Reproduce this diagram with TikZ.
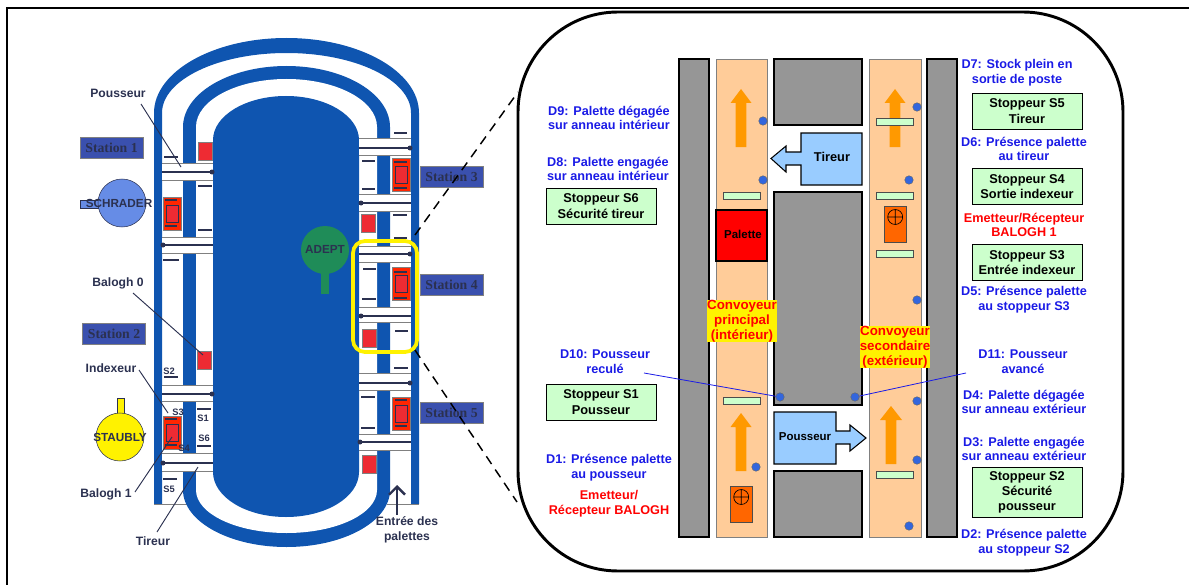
\documentclass[tikz,border=0pt]{standalone}
\usepackage{fontspec}
\setmainfont{Liberation Sans}
\newfontfamily\stationfont{Liberation Serif}
\usetikzlibrary{arrows.meta}
\definecolor{track}{HTML}{0F55B0}
\definecolor{navy}{HTML}{2B3150}
\definecolor{stationblue}{HTML}{3A50AE}
\definecolor{concrete}{HTML}{969696}
\definecolor{peach}{HTML}{FFCC99}
\definecolor{stopgreen}{HTML}{CCFFCC}
\definecolor{sky}{HTML}{99CCFF}
\definecolor{amber}{HTML}{FF9900}
\definecolor{emitter}{HTML}{FF6600}
\definecolor{sensor}{HTML}{3366DD}
\definecolor{textblue}{HTML}{1A1AE6}
\definecolor{palletred}{HTML}{EE2B33}
\definecolor{adeptgreen}{HTML}{1F8C58}

\begin{document}
\begin{tikzpicture}[
  x=.75pt, y=-.75pt,
  every path/.style={line cap=butt},
  every node/.style={inner sep=0pt, align=center},
  callout/.style={font=\bfseries\fontsize{9.1}{11}\selectfont, text=navy},
  stationbox/.style={rectangle, draw=gray, fill=stationblue, text=navy, minimum width=47pt, minimum height=15.5pt, font=\stationfont\bfseries\fontsize{10.3}{11}\selectfont},
  robotname/.style={font=\bfseries\fontsize{8.8}{10}\selectfont, text=navy},
  slabel/.style={font=\bfseries\fontsize{7}{8}\selectfont, text=navy},
  leader/.style={navy, line width=.7pt},
  sensortext/.style={font=\bfseries\fontsize{9.5}{11.1}\selectfont, text=textblue},
  alerttext/.style={font=\bfseries\fontsize{9.5}{11.1}\selectfont, text=red},
  stopbox/.style={rectangle, draw=black, line width=.6pt, fill=stopgreen, minimum width=82.5pt, minimum height=27pt, font=\bfseries\fontsize{9.6}{11.4}\selectfont},
  lanetext/.style={fill=yellow, text=red, font=\bfseries\fontsize{10}{11.3}\selectfont, minimum width=50pt},
  block/.style={draw=black, line width=.9pt, fill=concrete},
  lane/.style={draw=gray, line width=.7pt, fill=peach},
  stopbar/.style={draw=black!70, line width=.6pt, fill=stopgreen},
  flow/.style={fill=amber},
  jack/.style={draw=black, line width=.8pt, fill=sky},
  dot/.style={circle, draw=black!60, line width=.3pt, fill=sensor, minimum size=6.4pt},
]
\useasboundingbox (0,0) rectangle (1189,585);

% ---------- page frame ----------
\draw[line width=1.5pt] (1189,8) -- (7,8) -- (7,585);

% ---------- overview: ring tracks ----------
\fill[track] (154,504) -- (154,113) arc[start angle=180, end angle=360, x radius=132.5, y radius=75]
  -- (419,504) -- (411,504) -- (411,113) arc[start angle=360, end angle=180, x radius=124.5, y radius=60]
  -- (162,504) -- cycle;
\draw[gray, line width=.5pt] (154,504) -- (190,504);
\draw[gray, line width=.5pt] (387,504) -- (419,504);
\fill[track] (183,127) arc[start angle=180, end angle=360, x radius=103.5, y radius=61]
  -- (390,490) arc[start angle=0, end angle=180, x radius=103.5, y radius=57] -- cycle;
\fill[white] (196,127) arc[start angle=180, end angle=360, x radius=90.5, y radius=48]
  -- (377,490) arc[start angle=0, end angle=180, x radius=90.5, y radius=43] -- cycle;
\fill[track] (213,140) arc[start angle=180, end angle=360, x radius=73, y radius=44]
  -- (359,472) arc[start angle=0, end angle=180, x radius=73, y radius=45] -- cycle;

% ---------- overview: transfer bars ----------
\foreach \xa/\xb/\ya/\yb/\yl/\xd in {162/213/163/180/172/212, 162/213/237/253/245/163,
    162/213/385/401/394/212, 162/213/453/471/463/163,
    359/411/138/155/148/410, 359/411/194/211/203/361, 359/411/246/262/254/410,
    359/411/307/322/316/361, 359/411/373/390/383/410, 359/411/434/450/442/360} {
  \fill[white] (\xa,\ya) rectangle (\xb,\yb);
  \draw[gray, line width=.6pt] (\xa,\ya) -- (\xb,\ya) (\xa,\yb) -- (\xb,\yb);
  \draw[navy, line width=1pt] (\xa,\yl) -- (\xb,\yl);
  \fill[navy] (\xd,\yl) circle[radius=2.5];
}

% ---------- overview: pallets and indexers ----------
\foreach \xa/\ya in {198/142, 197/351, 361/214, 362/329, 362/455}
  \draw[gray, line width=.5pt, fill=palletred] (\xa,\ya) rectangle ++(14,18);
\foreach \xa/\ya in {163/197, 163/416, 392/158, 392/267, 392/397} {
  \draw[gray, line width=.5pt, fill=red!70!orange] (\xa,\ya) rectangle ++(18,33);
  \draw[navy, line width=.4pt, fill=palletred] (\xa+3,\ya+8) rectangle ++(12,17);
}
\foreach \xa/\xb/\ya in {164/178/157, 198/212/186, 198/212/230, 163/179/260, 165/177/200, 165/177/226,
    164/178/377, 197/211/409, 197/211/446, 163/177/479, 165/177/419, 165/177/445,
    394/407/133, 362/375/161, 362/375/189, 393/407/215, 394/407/238, 394/407/162, 394/407/188,
    363/376/269, 362/376/299, 395/408/331, 394/408/368, 394/407/272, 394/407/298,
    361/375/397, 361/375/428, 395/407/400, 395/407/426}
  \draw[navy, line width=1.5pt] (\xa,\ya) -- (\xb,\ya);

% ---------- overview: stations and robots ----------
\node[stationbox] (st1) at (111.5,147.5) {Station 1};
\node[stationbox] (st2) at (114,333.5)   {Station 2};
\node[stationbox] (st3) at (451.5,177)   {Station 3};
\node[stationbox] (st4) at (451.5,284.5) {Station 4};
\node[stationbox] (st5) at (451.5,412.5) {Station 5};

\draw[navy, line width=.4pt, fill=sensor!75!white] (80,200) rectangle (98,208);
\draw[navy, line width=.4pt, fill=sensor!75!white] (122,203) circle[radius=24];
\node[robotname] (schrader) at (119,203) {SCHRADER};
\draw[navy, line width=.4pt, fill=yellow] (117,398) rectangle (124,416);
\draw[navy, line width=.4pt, fill=yellow] (120,437) circle[radius=24];
\node[robotname] (staubly) at (120,437) {STAUBLY};
\fill[adeptgreen] (321,272) rectangle (329,294);
\fill[adeptgreen] (325,250) circle[radius=24];
\node[robotname] (adept) at (325,249) {ADEPT};

\node[slabel] (s2) at (169,371) {S2};
\node[slabel] (s3) at (178,412) {S3};
\node[slabel] (s1) at (203,418) {S1};
\node[slabel] (s6) at (204,438) {S6};
\node[slabel] (s4) at (184,448) {S4};
\node[slabel] (s5) at (169,489) {S5};

% ---------- overview: callouts ----------
\node[callout] (pousseur) at (118,93)  {Pousseur};
\node[callout] (balogh0)  at (118,283) {Balogh 0};
\node[callout] (indexeur) at (111,368) {Indexeur};
\node[callout] (balogh1)  at (106,494) {Balogh 1};
\node[callout] (tireur)   at (153,541) {Tireur};
\node[callout] (entree)   at (407,530) {Entrée des\\palettes};
\coordinate (pousseurend) at (181,167);
\coordinate (balogh0end)  at (203,355);
\coordinate (indexeurend) at (168,413);
\coordinate (balogh1end)  at (172,437);
\coordinate (tireurend)   at (198,467);
\coordinate (entreeend)   at (397,485);
\draw[leader] (141,104) -- (pousseurend);
\draw[leader] (133,293) -- (balogh0end);
\draw[leader] (139,370) -- (indexeurend);
\draw[leader] (135,492) -- (balogh1end);
\draw[leader] (157,532) -- (tireurend);
\draw[navy, line width=1.8pt, -{Straight Barb[length=6pt,width=12pt]}] (397,515) -- (entreeend);

% ---------- zoom frame ----------
\draw[black, line width=2.2pt, rounded corners=75pt] (518,12) rectangle (1123,571);
\draw[yellow, line width=2.8pt, rounded corners=9pt] (353,241) rectangle (417,352);
\coordinate (zoomtop) at (415,235);
\coordinate (zoombot) at (415,350);
\coordinate (paneltop) at (518,92);
\coordinate (panelbot) at (517,502);
\draw[black, line width=1.1pt, dash pattern=on 7pt off 5pt] (zoomtop) -- (paneltop);
\draw[black, line width=1.1pt, dash pattern=on 7pt off 5pt] (zoombot) -- (panelbot);

% ---------- panel: blocks and lanes ----------
\draw[block] (679,59) rectangle (709,537);
\draw[block] (927,59) rectangle (957,537);
\draw[block] (774,59) rectangle (862,125);
\draw[block] (774,192) rectangle (862,405);
\draw[block] (774,471) rectangle (862,537);
\draw[lane] (716,59) rectangle (767,537);
\draw[lane] (869,59) rectangle (921,537);

\foreach \xc/\yb/\yh/\yt/\ww in {741/147/103/89/10.5, 895/147/103/89/10.5, 741/471/427/413/10.5, 891/464/420/406/11}
  \fill[flow] (\xc-5.3,\yb) -- (\xc-5.3,\yh) -- (\xc-\ww,\yh) -- (\xc,\yt) -- (\xc+\ww,\yh) -- (\xc+5.3,\yh) -- (\xc+5.3,\yb) -- cycle;

\foreach \xa/\ya in {723/192, 876/118, 876/192, 876/250, 723/397, 876/471}
  \draw[stopbar] (\xa,\ya) rectangle ++(37.5,7.5);

% ---------- panel: jacks ----------
\draw[jack] (862,133) -- (801,133) -- (801,152) -- (786,152) -- (786,146) -- (771,158.5) -- (786,172) -- (786,165) -- (801,165) -- (801,185) -- (862,185) -- cycle;
\node[font=\bfseries\fontsize{9.6}{11}\selectfont] (tireurjack) at (832,157) {Tireur};
\draw[jack] (774,412) -- (836,412) -- (836,431) -- (850,431) -- (850,425) -- (866,438) -- (850,451) -- (850,444) -- (836,444) -- (836,464) -- (774,464) -- cycle;
\node[font=\bfseries\fontsize{8.6}{11}\selectfont] (pousseurjack) at (805,437) {Pousseur};

% ---------- panel: pallet and emitters ----------
\draw[black, line width=1.2pt, fill=red] (716,210) rectangle (767,261);
\node[font=\bfseries\fontsize{8.6}{10}\selectfont] (palette) at (743,234) {Palette};
\foreach \xa/\ya in {884/206, 730/486} {
  \draw[black!70, line width=.6pt, fill=emitter] (\xa,\ya) rectangle ++(22.5,36.5);
  \draw[black, line width=.5pt] (\xa+11.2,\ya+11) circle[radius=7.5] (\xa+3.7,\ya+11) -- ++(15,0) (\xa+11.2,\ya+3.5) -- ++(0,15);
}

% ---------- panel: sensors ----------
\foreach \n/\xc/\yc in {da/763/121, db/763/180, dc/917/107, dd/909/180, de/917/300,
    dten/780/397, dele/855/397, df/917/401, dg/756/467, dh/917/460, di/909/526}
  \node[dot] (\n) at (\xc,\yc) {};

\node[lanetext] (principal)  at (742,321) {Convoyeur\\principal\\(intérieur)};
\node[lanetext] (secondaire) at (895,347) {Convoyeur\\secondaire\\(extérieur)};

% ---------- panel: left labels ----------
\node[sensortext] (d9)  at (609,118) {D9: Palette dégagée\\sur anneau intérieur};
\node[sensortext] (d8)  at (608,169) {D8: Palette engagée\\sur anneau intérieur};
\node[stopbox]    (s6box) at (601,206) {Stoppeur S6\\Sécurité tireur};
\node[sensortext] (d10) at (605,362) {D10: Pousseur\\reculé};
\node[stopbox]    (s1box) at (601,402) {Stoppeur S1\\Pousseur};
\node[sensortext] (d1)  at (609,468) {D1: Présence palette\\au pousseur};
\node[alerttext]  (balogh) at (609,504) {Emetteur/\\Récepteur BALOGH};

% ---------- panel: right labels ----------
\node[sensortext] (d7)  at (1017,73)  {D7: Stock plein en\\sortie de poste};
\node[stopbox]    (s5box) at (1027,111) {Stoppeur S5\\Tireur};
\node[sensortext] (d6)  at (1024,149) {D6: Présence palette\\au tireur};
\node[stopbox]    (s4box) at (1027,186.5) {Stoppeur S4\\Sortie indexeur};
\node[alerttext]  (balogh1r) at (1024,225) {Emetteur/Récepteur\\BALOGH 1};
\node[stopbox]    (s3box) at (1027,262.5) {Stoppeur S3\\Entrée indexeur};
\node[sensortext] (d5)  at (1024,300) {D5: Présence palette\\au stoppeur S3};
\node[sensortext] (d11) at (1023,362) {D11: Pousseur\\avancé};
\node[sensortext] (d4)  at (1024,402) {D4: Palette dégagée\\sur anneau extérieur};
\node[sensortext] (d3)  at (1024,449) {D3: Palette engagée\\sur anneau extérieur};
\node[stopbox, minimum height=38pt] (s2box) at (1027,492.5) {Stoppeur S2\\Sécurité\\pousseur};
\node[sensortext] (d2)  at (1024,543) {D2: Présence palette\\au stoppeur S2};

\coordinate (d10start) at (644,373);
\coordinate (d11start) at (966,373);
\draw[textblue, line width=.6pt] (d10start) -- (dten);
\draw[textblue, line width=.6pt] (d11start) -- (dele);

\end{tikzpicture}
\end{document}
